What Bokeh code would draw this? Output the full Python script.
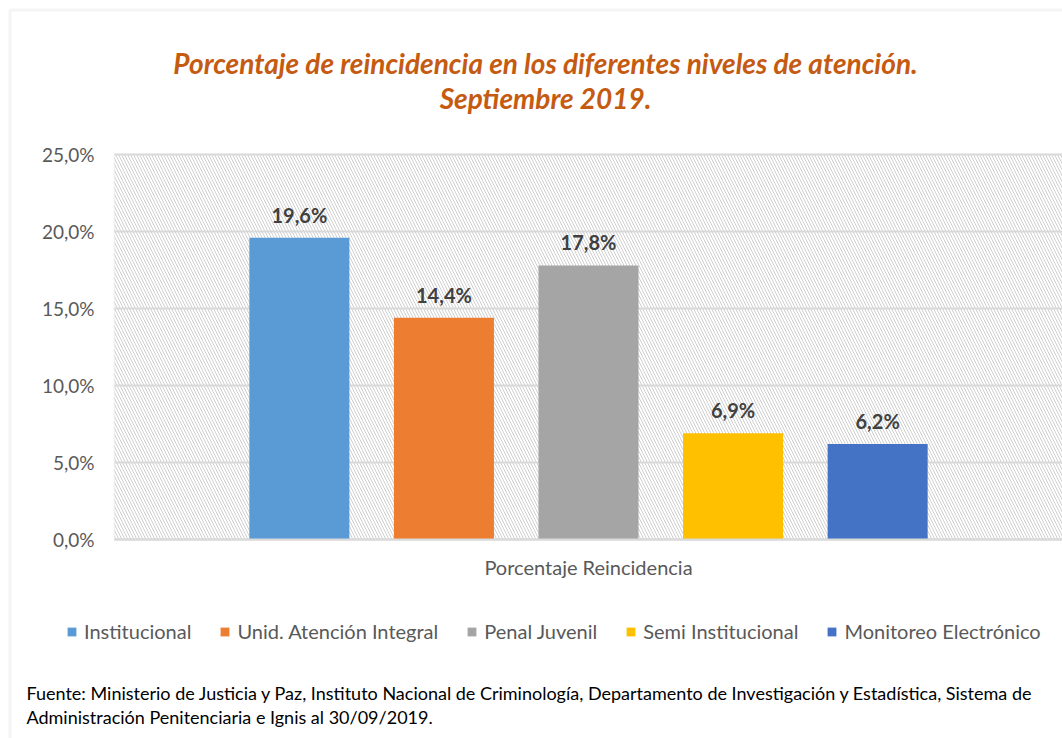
from bokeh.plotting import figure
from bokeh.models import (Range1d, ColumnDataSource, FixedTicker, BoxAnnotation,
                          Label, Legend, LegendItem)
from bokeh.core.properties import value
from bokeh.embed import file_html
from bokeh.resources import INLINE

category = "Porcentaje Reincidencia"
series_names = ["Institucional", "Unid. Atención Integral", "Penal Juvenil",
                "Semi Institucional", "Monitoreo Electrónico"]
series_values = [19.6, 14.4, 17.8, 6.9, 6.2]
value_labels = ["19,6%", "14,4%", "17,8%", "6,9%", "6,2%"]
series_colors = ["#5b9bd5", "#ed7d31", "#a5a5a5", "#ffc000", "#4472c4"]
y_ticks = [0, 5, 10, 15, 20, 25]
y_tick_labels = ["0,0%", "5,0%", "10,0%", "15,0%", "20,0%", "25,0%"]
title_lines = ["Porcentaje de reincidencia en los diferentes niveles de atención.",
               "Septiembre 2019."]
source_lines = ["Fuente: Ministerio de Justicia y Paz, Instituto Nacional de Criminología, Departamento de Investigación y Estadística, Sistema de",
                "Administración Penitenciaria e Ignis al 30/09/2019."]

FONT = "Lato"
BORDER = "#d9d9d9"
W, H = 1062, 738
# plot area in pixels: x 114..1062, y 154..539  (data x 0..1, y 0..25)
PX_L, PX_T, PX_B = 114, 154, 539
ppu_y = (PX_B - PX_T) / 25.0
ppu_x = (W - PX_L) / 1.0

p = figure(width=W, height=H,
           x_range=Range1d(-PX_L / ppu_x, 1.0),
           y_range=Range1d(-(H - PX_B) / ppu_y, 25 + PX_T / ppu_y),
           output_backend="svg", toolbar_location=None,
           min_border_left=0, min_border_right=0, min_border_top=0, min_border_bottom=0)
p.title.visible = False
p.background_fill_color = "white"
p.border_fill_color = "white"
p.outline_line_color = None
p.xgrid.visible = False
p.ygrid.visible = False

# hatched plot area with its border
p.add_layout(BoxAnnotation(left=0, right=1, bottom=0, top=25, fill_alpha=0,
                           line_color=BORDER, line_width=2, hatch_pattern="\\",
                           hatch_color="#cfcfcf", hatch_scale=6, hatch_weight=1,
                           level="image"))
# horizontal gridlines at the y ticks
p.segment(x0=0, x1=1, y0=y_ticks, y1=y_ticks, line_color=BORDER, line_width=2, level="underlay")

p.yaxis.fixed_location = 0
p.yaxis.bounds = (0, 25)
p.yaxis.ticker = FixedTicker(ticks=y_ticks)
p.yaxis.major_label_overrides = dict(zip(y_ticks, y_tick_labels))
p.yaxis.axis_line_color = None
p.yaxis.major_tick_line_color = None
p.yaxis.major_tick_out = 0
p.yaxis.major_tick_in = 0
p.yaxis.minor_tick_line_color = None
p.yaxis.major_label_standoff = 20
p.yaxis.major_label_text_font = FONT
p.yaxis.major_label_text_font_size = "19px"
p.yaxis.major_label_text_color = "#595959"

p.xaxis.fixed_location = 0
p.xaxis.bounds = (0, 1)
p.xaxis.ticker = FixedTicker(ticks=[0.5])
p.xaxis.major_label_overrides = {0.5: category}
p.xaxis.axis_line_color = BORDER
p.xaxis.axis_line_width = 2
p.xaxis.major_tick_line_color = None
p.xaxis.major_tick_out = 0
p.xaxis.major_tick_in = 0
p.xaxis.minor_tick_line_color = None
p.xaxis.major_label_standoff = 15
p.xaxis.major_label_text_font = FONT
p.xaxis.major_label_text_font_size = "20px"
p.xaxis.major_label_text_color = "#595959"

bar_step = 0.1525
bar_width = 0.1055
items = []
for i, (name, val, lab, col) in enumerate(zip(series_names, series_values, value_labels, series_colors)):
    src = ColumnDataSource(dict(x=[0.5 + (i - 2) * bar_step], y=[val], lab=[lab]))
    r = p.vbar(x="x", top="y", bottom=0, width=bar_width, source=src,
               fill_color=col, line_color=None)
    p.text(x="x", y="y", text="lab", source=src,
           text_align="center", text_baseline="bottom", y_offset=-11,
           text_font=value(FONT), text_font_style="bold", text_font_size="20px",
           text_color="#404040")
    items.append(LegendItem(label=name, renderers=[r]))

legend = Legend(items=items, orientation="horizontal", location=(66, 95),
                glyph_width=11, glyph_height=11, label_standoff=7, spacing=28,
                padding=0, margin=0, border_line_color=None, background_fill_alpha=0,
                label_text_font=FONT, label_text_font_size="20px", label_text_color="#595959")
p.add_layout(legend, "center")

for txt, yy in zip(title_lines, [62, 97]):
    p.add_layout(Label(x=545, y=H - yy, x_units="screen", y_units="screen", text=txt,
                       text_align="center", text_baseline="middle", text_font=FONT,
                       text_font_style="bold italic", text_font_size="28px",
                       text_color="#c55a11"))

for txt, yy in zip(source_lines, [692, 716]):
    p.add_layout(Label(x=26, y=H - yy, x_units="screen", y_units="screen", text=txt,
                       text_align="left", text_baseline="middle", text_font=FONT,
                       text_font_size="18px", text_color="#000000"))

# outer chart border (top and left edges visible)
p.add_layout(BoxAnnotation(left=9.5, right=1300, top=9.5, bottom=1300,
                           left_units="canvas", right_units="canvas",
                           top_units="canvas", bottom_units="canvas",
                           fill_alpha=0, line_color=BORDER, line_width=3, level="overlay"))

open("out.html", "w").write(file_html(p, INLINE))
